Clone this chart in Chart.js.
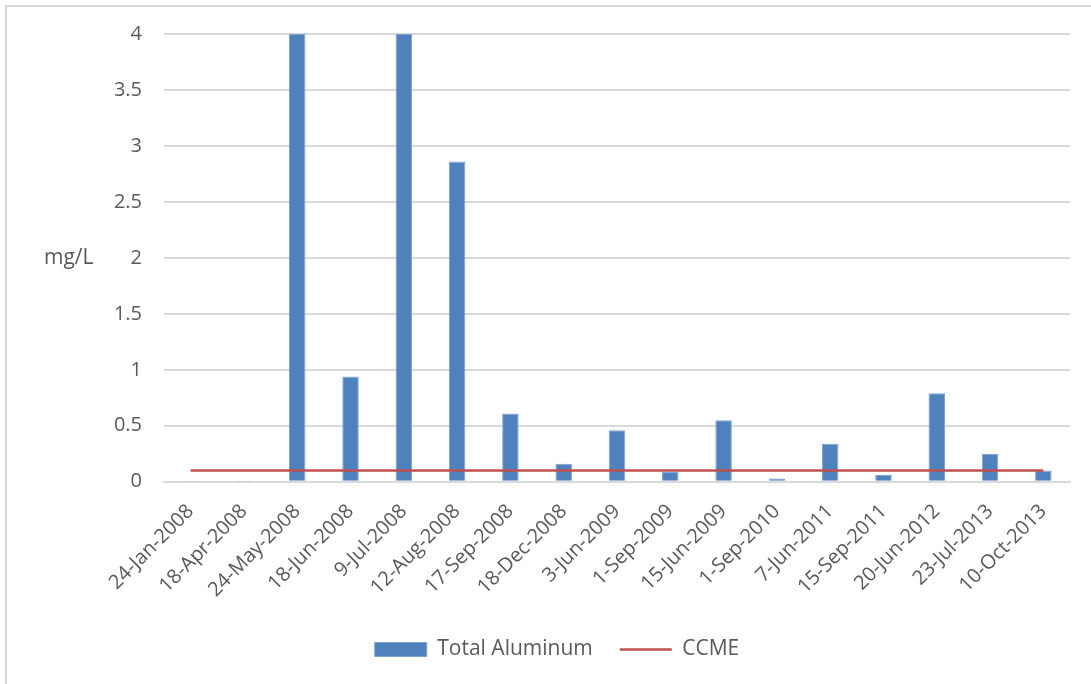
<!DOCTYPE html>
<html>
<head>
<meta charset="utf-8">
<script src="https://cdn.jsdelivr.net/npm/chart.js@4"></script>
<style>
  body { margin: 0; background: #fff; }
  #wrap { position: relative; width: 1091px; height: 684px; }
  #frame { position: absolute; left: 5px; top: 5px; right: 0; bottom: 0;
           border-left: 2px solid #d9d9d9; border-top: 2px solid #d9d9d9; }
  canvas { position: absolute; left: 0; top: 0; }
</style>
</head>
<body>
<div id="wrap">
  <div id="frame"></div>
  <canvas id="diagram" width="1091" height="684"></canvas>
</div>
<script>
// sampling dates and measured aluminum (mg/L)
var dates = ['24-Jan-2008', '18-Apr-2008', '24-May-2008', '18-Jun-2008', '9-Jul-2008',
             '12-Aug-2008', '17-Sep-2008', '18-Dec-2008', '3-Jun-2009', '1-Sep-2009',
             '15-Jun-2009', '1-Sep-2010', '7-Jun-2011', '15-Sep-2011', '20-Jun-2012',
             '23-Jul-2013', '10-Oct-2013'];
var aluminum = [0.005, 0.005, 4, 0.94, 4, 2.86, 0.61, 0.16, 0.46, 0.09,
                0.55, 0.03, 0.34, 0.06, 0.79, 0.25, 0.1];
// CCME guideline
var ccme = dates.map(function () { return 0.1; });
var yTicks = [0, 0.5, 1, 1.5, 2, 2.5, 3, 3.5, 4];

var font = "'Open Sans', 'Liberation Sans', sans-serif";
var grey = '#595959';

// horizontal axis title on the left
var unitLabel = {
  id: 'unitLabel',
  afterDraw: function (chart) {
    var ctx = chart.ctx;
    var y = chart.scales.y.getPixelForValue(2);
    ctx.save();
    ctx.font = '21px ' + font;
    ctx.fillStyle = grey;
    ctx.textAlign = 'left';
    ctx.textBaseline = 'middle';
    ctx.fillText('mg/L', 44, y);
    ctx.restore();
  }
};

var ctx = document.getElementById('diagram').getContext('2d');
new Chart(ctx, {
  data: {
    labels: dates,
    datasets: [{
      type: 'bar',
      label: 'Total Aluminum',
      data: aluminum,
      backgroundColor: '#4f81bd',
      borderColor: '#7fa3d0',
      borderWidth: 1,
      categoryPercentage: 1,
      barPercentage: 0.31,
      pointStyle: 'rect',
      order: 2
    }, {
      type: 'line',
      label: 'CCME',
      data: ccme,
      borderColor: '#c0504d',
      borderWidth: 2.5,
      pointRadius: 0,
      pointStyle: 'line',
      order: 1
    }]
  },
  options: {
    responsive: false,
    animation: false,
    layout: { padding: { left: 44, right: 21, top: 27, bottom: 14 } },
    scales: {
      x: {
        grid: { display: false },
        border: { color: '#d9d9d9', width: 2 },
        ticks: {
          color: grey, font: { family: font, size: 20 },
          maxRotation: 45, minRotation: 45, autoSkip: false, padding: 10
        }
      },
      y: {
        min: 0, max: 4,
        afterBuildTicks: function (axis) {
          axis.ticks = yTicks.map(function (v) { return { value: v }; });
        },
        afterFit: function (axis) { axis.width = 120; },
        grid: { color: '#d9d9d9', lineWidth: 2, drawTicks: false },
        border: { display: false },
        ticks: {
          color: grey, font: { family: font, size: 20 }, padding: 22,
          callback: function (v) { return String(v); }
        }
      }
    },
    plugins: {
      legend: {
        position: 'bottom',
        labels: {
          usePointStyle: true, pointStyleWidth: 52, boxHeight: 14,
          color: grey, font: { family: font, size: 21 }, padding: 27,
          sort: function (a, b) { return a.datasetIndex - b.datasetIndex; }
        }
      },
      tooltip: { enabled: false }
    }
  },
  plugins: [unitLabel]
});
</script>
</body>
</html>
